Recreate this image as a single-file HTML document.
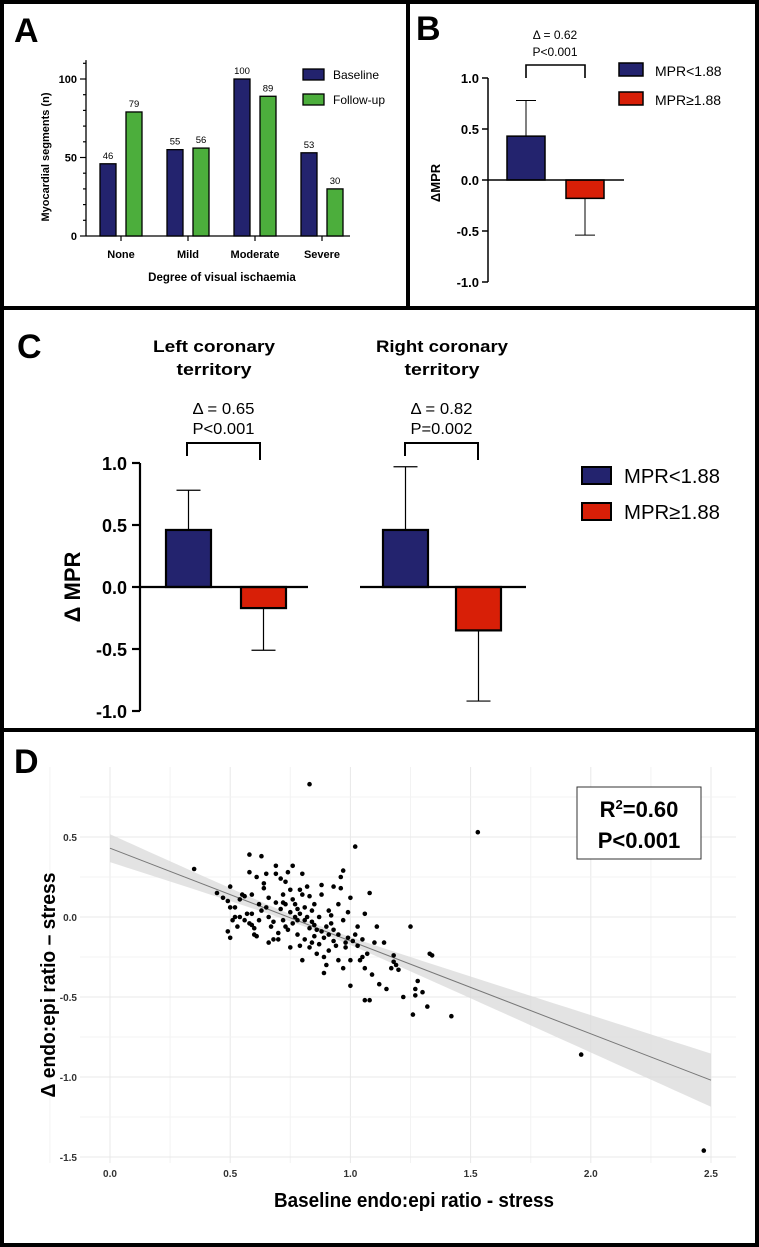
<!DOCTYPE html>
<html><head><meta charset="utf-8">
<style>
html,body{margin:0;padding:0;background:#fff;}
svg{display:block;font-family:"Liberation Sans",Arial,sans-serif;}
.n{font-family:"Liberation Sans Narrow","Liberation Sans",sans-serif;}
</style></head>
<body>
<svg id="fig" width="759" height="1247" viewBox="0 0 759 1247" xmlns="http://www.w3.org/2000/svg">
  <g id="frames" fill="none" stroke="#000">
    <rect x="2" y="2" width="755" height="1243" stroke-width="4"/>
    <line x1="408" y1="0" x2="408" y2="308" stroke-width="4"/>
    <line x1="0" y1="308" x2="759" y2="308" stroke-width="4"/>
    <line x1="0" y1="730" x2="759" y2="730" stroke-width="4"/>
  </g>
  <g id="pA"></g>
  <g id="pB"></g>
  <g id="pC"></g>
  <g id="pD"></g>
</svg>
<script>
// ---------- Panel A data ----------
const aCategories = ["None","Mild","Moderate","Severe"];
const aBaseline = [46,55,100,53];
const aFollowup = [79,56,89,30];
const aTicks = [0,50,100];
// ---------- Panel B data ----------
const bGroups = ["MPR<1.88","MPR\u22651.88"];
const bMeans = [0.43,-0.18];
const bErrors = [0.35,0.36];
const bTicks = [1.0,0.5,0.0,-0.5,-1.0];
// ---------- Panel C data ----------
const cTerritories = ["Left coronary territory","Right coronary territory"];
const cLowMeans = [0.46,0.46];
const cLowErrors = [0.32,0.51];
const cHighMeans = [-0.17,-0.35];
const cHighErrors = [0.34,0.57];
const cDeltas = ["\u0394 = 0.65","\u0394 = 0.82"];
const cPvals = ["P<0.001","P=0.002"];
const cTicks = [1.0,0.5,0.0,-0.5,-1.0];
// ---------- Panel D data ----------
const dX = [0.35,0.445,0.47,0.49,0.50,0.52,0.50,0.49,0.50,0.51,0.52,0.54,0.53,0.54,0.55,0.56,0.58,0.58,0.59,0.56,0.58,0.59,0.59,0.60,0.60,0.61,0.61,0.62,0.63,0.64,0.63,0.64,0.65,0.65,0.66,0.66,0.66,0.67,0.68,0.69,0.69,0.69,0.70,0.70,0.71,0.71,0.72,0.72,0.73,0.73,0.73,0.74,0.75,0.75,0.75,0.76,0.76,0.76,0.77,0.77,0.78,0.78,0.79,0.79,0.79,0.80,0.80,0.80,0.81,0.81,0.81,0.82,0.82,0.83,0.83,0.83,0.84,0.84,0.85,0.85,0.85,0.86,0.86,0.87,0.87,0.88,0.88,0.89,0.89,0.89,0.90,0.90,0.91,0.91,0.91,0.92,0.93,0.93,0.93,0.94,0.95,0.95,0.95,0.96,0.96,0.97,0.97,0.97,0.98,0.98,0.99,0.99,1.00,1.00,1.00,1.01,1.02,1.02,1.03,1.03,1.04,1.05,1.05,1.06,1.06,1.06,1.07,1.08,1.08,1.09,1.10,1.11,1.12,1.14,1.15,1.17,1.18,1.18,1.19,1.20,1.22,1.25,1.26,1.27,1.27,1.28,1.30,1.32,1.33,1.34,1.42,1.53,1.96,2.47,0.83,0.72,0.78,0.68,0.88,0.92,0.62,0.57,0.74,0.84];
const dY = [0.30,0.15,0.12,0.10,0.06,0.06,0.19,-0.09,-0.13,-0.02,0.00,0.00,-0.06,0.11,0.14,0.13,0.39,0.28,0.14,-0.02,-0.04,-0.05,0.02,-0.07,-0.11,-0.12,0.25,-0.02,0.04,0.21,0.38,0.18,0.06,0.27,0.12,0.00,-0.16,-0.06,-0.14,0.32,0.27,0.09,-0.14,-0.10,0.24,0.05,0.14,-0.02,0.08,-0.06,0.22,0.28,-0.19,0.03,0.17,0.32,-0.04,0.11,0.00,0.08,-0.11,-0.02,0.17,-0.18,0.02,-0.27,0.27,0.14,-0.02,0.06,-0.14,0.19,0.00,-0.07,0.13,-0.19,-0.03,0.04,-0.12,0.08,-0.05,-0.23,-0.08,0.00,-0.17,0.14,0.20,-0.25,-0.13,-0.35,-0.30,-0.06,-0.21,0.04,-0.11,0.01,-0.15,0.19,-0.08,-0.18,0.08,-0.11,-0.27,0.18,0.25,-0.02,-0.32,0.29,-0.16,-0.19,0.03,-0.13,-0.43,-0.27,0.12,-0.15,0.44,-0.11,-0.18,-0.06,-0.27,-0.25,-0.14,-0.52,-0.32,0.02,-0.23,-0.52,0.15,-0.36,-0.16,-0.06,-0.42,-0.16,-0.45,-0.32,-0.28,-0.24,-0.30,-0.33,-0.50,-0.06,-0.61,-0.49,-0.45,-0.40,-0.47,-0.56,-0.23,-0.24,-0.62,0.53,-0.86,-1.46,0.83,0.09,0.05,-0.03,-0.09,-0.04,0.08,0.02,-0.08,-0.16];
const dFit = [0.43,-0.58]; // intercept, slope
const dXTicks = [0.0,0.5,1.0,1.5,2.0,2.5];
const dYTicks = [0.5,0.0,-0.5,-1.0,-1.5];

const NS="http://www.w3.org/2000/svg";
function mk(parent, tag, attrs, text){
  const e=document.createElementNS(NS,tag);
  for(const k in attrs) e.setAttribute(k,attrs[k]);
  if(text!==undefined) e.textContent=text;
  parent.appendChild(e); return e;
}
const NAVY="#23236e", GREEN="#4cae3c", RED="#d81f07";

// ================= Panel A =================
(function(){
  const g=document.getElementById('pA');
  const y=v=>236-v*1.57;
  const cx=i=>121+i*67;
  let t=mk(g,'text',{x:14,y:42,'font-size':34,'font-weight':'bold'},'A');
   
  let ax=mk(g,'line',{x1:86,y1:y(0),x2:350,y2:y(0),stroke:'#000','stroke-width':1.3});
   
  let ay=mk(g,'line',{x1:86,y1:y(0),x2:86,y2:y(112),stroke:'#000','stroke-width':1.3});
   
  for(let v=0;v<=110;v+=10){ mk(g,'line',{x1:aTicks.includes(v)?80:83,y1:y(v),x2:86,y2:y(v),stroke:'#000','stroke-width':1.2}); }
  aTicks.forEach(v=>{
    const e=mk(g,'text',{x:77,y:y(v)+4,'font-size':11,'font-weight':'bold','text-anchor':'end'},String(v));
     
  });
  aCategories.forEach((c,i)=>{
    mk(g,'line',{x1:cx(i),y1:y(0),x2:cx(i),y2:y(0)+5,stroke:'#000','stroke-width':1.2});
    const l=mk(g,'text',{x:cx(i),y:258,'font-size':11,'font-weight':'bold','text-anchor':'middle'},c);
     
    const b1=mk(g,'rect',{x:cx(i)-21,y:y(aBaseline[i]),width:16,height:y(0)-y(aBaseline[i]),fill:NAVY,stroke:'#000','stroke-width':1.3});
     
    const b2=mk(g,'rect',{x:cx(i)+5,y:y(aFollowup[i]),width:16,height:y(0)-y(aFollowup[i]),fill:GREEN,stroke:'#000','stroke-width':1.3});
     
    const v1=mk(g,'text',{x:cx(i)-13,y:y(aBaseline[i])-5,'font-size':9.5,'text-anchor':'middle'},String(aBaseline[i]));
     
    const v2=mk(g,'text',{x:cx(i)+13,y:y(aFollowup[i])-5,'font-size':9.5,'text-anchor':'middle'},String(aFollowup[i]));
     
  });
  const yt=mk(g,'text',{x:0,y:0,'font-size':11,'font-weight':'bold','text-anchor':'middle',transform:'translate(49,157) rotate(-90)'},'Myocardial segments (n)');
   
  const xt=mk(g,'text',{x:222,y:281,'font-size':11.5,'font-weight':'bold','text-anchor':'middle'},'Degree of visual ischaemia');
   
  const lg=mk(g,'g',{});
   
  mk(lg,'rect',{x:303,y:69,width:21,height:11,fill:NAVY,stroke:'#000','stroke-width':1.3});
  mk(lg,'text',{x:333,y:79,'font-size':12},'Baseline');
  mk(lg,'rect',{x:303,y:94,width:21,height:11,fill:GREEN,stroke:'#000','stroke-width':1.3});
  mk(lg,'text',{x:333,y:104,'font-size':12},'Follow-up');
})();

// ================= Panel B =================
(function(){
  const g=document.getElementById('pB');
  const y=v=>180-v*102;
  const t=mk(g,'text',{x:416,y:40,'font-size':34,'font-weight':'bold'},'B');
   
  const ay=mk(g,'line',{x1:488,y1:y(1),x2:488,y2:y(-1),stroke:'#000','stroke-width':1.5});
   
  bTicks.forEach(v=>{
    mk(g,'line',{x1:482,y1:y(v),x2:488,y2:y(v),stroke:'#000','stroke-width':1.5});
    const e=mk(g,'text',{x:479,y:y(v)+5,'font-size':13,'font-weight':'bold','text-anchor':'end'},v.toFixed(1));
     
  });
  const xs=[507,566], cols=[NAVY,RED];
  bMeans.forEach((m,i)=>{
    const top=Math.min(y(m),y(0)), h=Math.abs(y(m)-y(0));
    const r=mk(g,'rect',{x:xs[i],y:top,width:38,height:h,fill:cols[i],stroke:'#000','stroke-width':1.5});
     
    const ex=xs[i]+19, ee=m>=0?m+bErrors[i]:m-bErrors[i];
    const el=mk(g,'path',{d:`M${ex},${y(m)}L${ex},${y(ee)}M${ex-10},${y(ee)}L${ex+10},${y(ee)}`,stroke:'#000','stroke-width':1,fill:'none'});
     
  });
  const z=mk(g,'line',{x1:488,y1:y(0),x2:624,y2:y(0),stroke:'#000','stroke-width':1.5});
   
  const br=mk(g,'path',{d:'M526,78L526,65L585,65L585,78',stroke:'#000','stroke-width':1.6,fill:'none'});
   
  mk(g,'text',{x:555,y:39,'font-size':12,'text-anchor':'middle'},'\u0394 = 0.62');
  mk(g,'text',{x:555,y:56,'font-size':12,'text-anchor':'middle'},'P<0.001');
  const yt=mk(g,'text',{x:0,y:0,'font-size':13,'font-weight':'bold','text-anchor':'middle',transform:'translate(440,183) rotate(-90)'},'\u0394MPR');
   
  const lg=mk(g,'g',{});  
  bGroups.forEach((n,i)=>{
    mk(lg,'rect',{x:619,y:63+i*29,width:24,height:13,fill:cols[i],stroke:'#000','stroke-width':1.5});
    mk(lg,'text',{x:655,y:76+i*29,'font-size':14},n);
  });
})();

// ================= Panel C =================
(function(){
  const g=document.getElementById('pC');
  const y=v=>587-v*124;
  const t=mk(g,'text',{x:17,y:358,'font-size':34,'font-weight':'bold'},'C');
   
  const ay=mk(g,'line',{x1:140,y1:y(1),x2:140,y2:y(-1),stroke:'#000','stroke-width':2.2});
   
  cTicks.forEach(v=>{
    mk(g,'line',{x1:132,y1:y(v),x2:140,y2:y(v),stroke:'#000','stroke-width':2.2});
    const e=mk(g,'text',{x:127,y:y(v)+7,'font-size':18,'font-weight':'bold','text-anchor':'end','class':'n'},v.toFixed(1));
     
  });
  const yt=mk(g,'text',{x:0,y:0,'font-size':22,'font-weight':'bold','text-anchor':'middle',transform:'translate(80,587) rotate(-90)'},'\u0394 MPR');
   
  const zl=[[140,308],[360,526]], b1=[166,383], b2=[241,456], tc=[214,442], brk=[[187,260],[405,478]];
  const tw=[[122,75],[132,75]];
  cTerritories.forEach((name,i)=>{
    const words=name.split(' ');
    const tt=mk(g,'text',{x:tc[i],y:352,'font-size':17,'font-weight':'bold','text-anchor':'middle','class':'n',textLength:tw[i][0],lengthAdjust:'spacingAndGlyphs'},words[0]+' '+words[1]);
     
    mk(g,'text',{x:tc[i],y:375,'font-size':17,'font-weight':'bold','text-anchor':'middle','class':'n',textLength:tw[i][1],lengthAdjust:'spacingAndGlyphs'},words[2]);
    const bx=(brk[i][0]+brk[i][1])/2;
    const d1=mk(g,'text',{x:bx,y:414,'font-size':16,'text-anchor':'middle','class':'n',textLength:62,lengthAdjust:'spacingAndGlyphs'},cDeltas[i]);
     
    const p1=mk(g,'text',{x:bx,y:434,'font-size':16,'text-anchor':'middle','class':'n',textLength:62,lengthAdjust:'spacingAndGlyphs'},cPvals[i]);
     
    const br=mk(g,'path',{d:`M${brk[i][0]},456L${brk[i][0]},443L${brk[i][1]},443L${brk[i][1]},460`,stroke:'#000','stroke-width':2,fill:'none'});
     
    const w=45;
    [[b1[i],cLowMeans[i],cLowErrors[i],NAVY,'low'],[b2[i],cHighMeans[i],cHighErrors[i],RED,'high']].forEach(([x,m,er,col,tag])=>{
      const r=mk(g,'rect',{x:x,y:Math.min(y(m),y(0)),width:w,height:Math.abs(y(m)-y(0)),fill:col,stroke:'#000','stroke-width':2.2});
       
      const ex=x+w/2, ee=m>=0?m+er:m-er;
      const el=mk(g,'path',{d:`M${ex},${y(m)}L${ex},${y(ee)}M${ex-12},${y(ee)}L${ex+12},${y(ee)}`,stroke:'#000','stroke-width':1.2,fill:'none'});
       
    });
    const z=mk(g,'line',{x1:zl[i][0],y1:y(0),x2:zl[i][1],y2:y(0),stroke:'#000','stroke-width':2.2});
     
  });
  const lg=mk(g,'g',{});  
  bGroups.forEach((n,i)=>{
    mk(lg,'rect',{x:582,y:467+i*36,width:29,height:17,fill:[NAVY,RED][i],stroke:'#000','stroke-width':2});
    mk(lg,'text',{x:624,y:483+i*36,'font-size':20,'class':'n',textLength:96,lengthAdjust:'spacingAndGlyphs'},n);
  });
})();

// ================= Panel D =================
(function(){
  const g=document.getElementById('pD');
  const x=v=>110+v*240.4, y=v=>917-v*160;
  const t=mk(g,'text',{x:14,y:773,'font-size':34,'font-weight':'bold'},'D');
   
  const grid=mk(g,'g',{});  
  for(let v=-0.25;v<=2.6;v+=0.25){ mk(grid,'line',{x1:x(v),y1:767,x2:x(v),y2:1163,stroke:Math.abs(v*2-Math.round(v*2))<1e-6?'#e8e8e8':'#f3f3f3','stroke-width':1}); }
  for(let v=0.75;v>=-1.5;v-=0.25){ mk(grid,'line',{x1:80,y1:y(v),x2:736,y2:y(v),stroke:Math.abs(v*2-Math.round(v*2))<1e-6?'#e8e8e8':'#f3f3f3','stroke-width':1}); }
  const mx=0.85; let up=[],lo=[];
  for(let v=0;v<=2.5001;v+=0.05){
    const f=dFit[0]+dFit[1]*v, h=Math.sqrt(0.0004+0.01*(v-mx)*(v-mx));
    up.push(x(v)+','+y(f+h)); lo.unshift(x(v)+','+y(f-h));
  }
  const band=mk(g,'polygon',{points:up.concat(lo).join(' '),fill:'#d9d9d9','fill-opacity':0.75});
   
  const fl=mk(g,'line',{x1:x(0),y1:y(dFit[0]),x2:x(2.5),y2:y(dFit[0]+dFit[1]*2.5),stroke:'#777','stroke-width':1});
   
  const pts=mk(g,'g',{});  
  dX.forEach((v,i)=>{
    const c=mk(pts,'circle',{cx:x(v),cy:y(dY[i]),r:2.3,fill:'#000'});
     
  });
  dXTicks.forEach(v=>{
    const e=mk(g,'text',{x:x(v),y:1177,'font-size':10,'font-weight':'bold','text-anchor':'middle','fill':'#333','class':'n'},v.toFixed(1));
     
  });
  dYTicks.forEach(v=>{
    const e=mk(g,'text',{x:77,y:y(v)+4,'font-size':10,'font-weight':'bold','text-anchor':'end','fill':'#333','class':'n'},v.toFixed(1));
     
  });
  const xt=mk(g,'text',{x:414,y:1207,'font-size':20,'font-weight':'bold','text-anchor':'middle','class':'n',textLength:280,lengthAdjust:'spacingAndGlyphs'},'Baseline endo:epi ratio - stress');
   
  const yt=mk(g,'text',{x:0,y:0,'font-size':20,'font-weight':'bold','text-anchor':'middle',transform:'translate(55,985) rotate(-90)',textLength:225,lengthAdjust:'spacingAndGlyphs'},'\u0394  endo:epi ratio \u2013 stress');
   
  const box=mk(g,'g',{});  
  mk(box,'rect',{x:577,y:787,width:124,height:72,fill:'#fff',stroke:'#333','stroke-width':1});
  const r2=mk(box,'text',{x:639,y:817,'font-size':22,'font-weight':'bold','text-anchor':'middle','class':'n'});
  r2.appendChild(document.createTextNode('R'));
  mk(r2,'tspan',{'font-size':13,dy:-8},'2');
  mk(r2,'tspan',{dy:8},'=0.60');
  mk(box,'text',{x:639,y:848,'font-size':22,'font-weight':'bold','text-anchor':'middle','class':'n'},'P<0.001');
})();
</script>
</body></html>
